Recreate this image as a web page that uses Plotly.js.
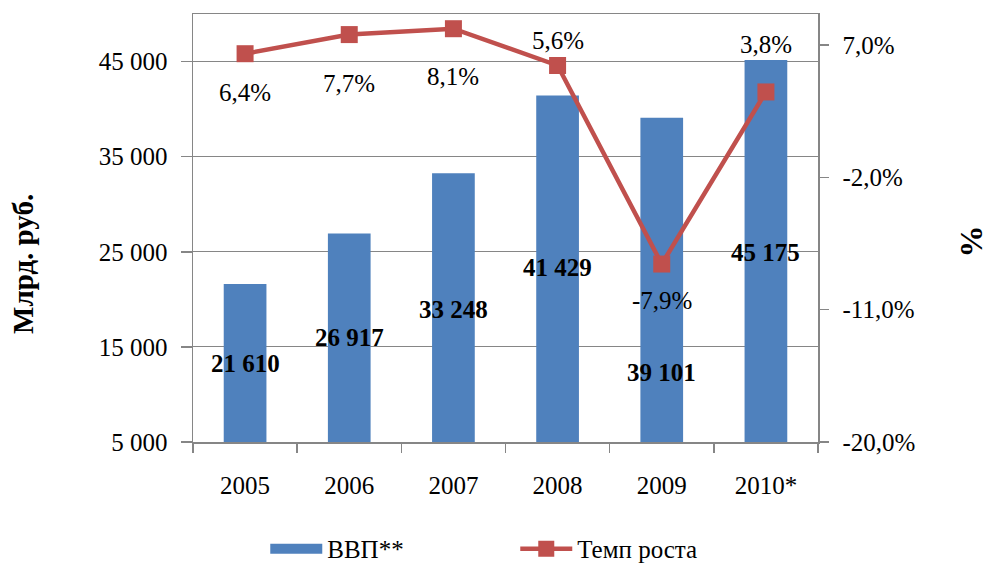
<!DOCTYPE html>
<html><head><meta charset="utf-8">
<script src="https://cdn.plot.ly/plotly-3.0.1.min.js"></script>
<style>html,body{margin:0;padding:0;background:#fff}#c{width:989px;height:563px}
#prime{position:absolute;left:0;top:0;font-family:'Liberation Serif';font-size:10px;color:transparent;pointer-events:none}</style>
</head><body>
<div id="prime">Тa 0 <b>Тa 0</b></div>
<div id="c"></div>
<script>
var years = ["2005","2006","2007","2008","2009","2010*"];
var gdp = [21610, 26917, 33248, 41429, 39101, 45175];
var gdpLabels = ["21 610","26 917","33 248","41 429","39 101","45 175"];
var growth = [6.4, 7.7, 8.1, 5.6, -7.9, 3.8];
var growthLabels = ["6,4%","7,7%","8,1%","5,6%","-7,9%","3,8%"];
var leftTicks = [5000, 15000, 25000, 35000, 45000];
var leftTickText = ["5 000","15 000","25 000","35 000","45 000"];
var rightTicks = [-20, -11, -2, 7];
var rightTickText = ["-20,0%","-11,0%","-2,0%","7,0%"];
var leftTitle = "Млрд. руб.";
var rightTitle = "%";
// label anchor positions (data units) for text placement
var gdpLabelPos = [13210, 15950, 18900, 23320, 12260, 24900];
var growthLabelPos = [3.75, 4.35, 4.85, 7.3, -10.35, 7.0];

var idx = years.map(function(_, i){ return i; });
var bounds = [-0.5].concat(idx.map(function(i){ return i + 0.5; }));

var font = "Liberation Serif, Times New Roman, serif";
var grey = "#868686";
var blue = "#4F81BD", red = "#C0504D";

var traces = [
  {type:"bar", x:idx, y:gdp, name:"ВВП**", marker:{color:blue}, yaxis:"y", width:0.41, hoverinfo:"none", showlegend:false},
  // legend entry for the bars (wide rectangle swatch, as in the reference)
  {type:"scatter", mode:"lines", x:[null], y:[null], name:"ВВП**", line:{color:blue, width:13}, hoverinfo:"none"},
  {type:"scatter", mode:"lines+markers", x:idx, y:growth, name:"Темп роста", yaxis:"y2",
   line:{color:red, width:4.5}, marker:{symbol:"square", size:17, color:red}, hoverinfo:"none"}
];

var ann = [];
for (var i=0;i<years.length;i++){
  ann.push({x:idx[i], y:gdpLabelPos[i], xref:"x", yref:"y", text:"<b>"+gdpLabels[i]+"</b>",
    showarrow:false, font:{family:font, size:25, color:"#000"}});
  ann.push({x:idx[i], y:growthLabelPos[i], xref:"x", yref:"y2", text:growthLabels[i],
    showarrow:false, font:{family:font, size:25, color:"#000"}});
}
// axis titles (placed as in the reference, off-centre)
ann.push({xref:"paper", yref:"paper", x:-0.272, y:0.416, xanchor:"center", yanchor:"middle",
  text:"<b>"+leftTitle+"</b>", textangle:-90, showarrow:false, font:{family:font, size:29, color:"#000"}});
ann.push({xref:"paper", yref:"paper", x:1.245, y:0.469, xanchor:"center", yanchor:"middle",
  text:"<b>"+rightTitle+"</b>", textangle:-90, showarrow:false, font:{family:font, size:32, color:"#000"}});

var layout = {
  width:989, height:563,
  margin:{l:193, r:171, t:14, b:121},
  paper_bgcolor:"#fff", plot_bgcolor:"#fff",
  font:{family:font, size:25, color:"#000"},
  showlegend:true,
  legend:{orientation:"h", xref:"container", yref:"container", x:0.521, xanchor:"center", y:0.025, yanchor:"middle",
    font:{family:font, size:25, color:"#000"}, traceorder:"normal", entrywidth:183, itemwidth:52},
  xaxis:{type:"linear", range:[-0.5, 5.5], tickvals:idx, ticktext:years, ticks:"",
    showline:true, linecolor:grey, linewidth:1.5, mirror:true, ticklabelstandoff:20,
    minor:{tickvals:bounds, ticks:"outside", ticklen:9, tickcolor:grey, tickwidth:1.5, showgrid:false},
    tickfont:{family:font, size:25}, showgrid:false, zeroline:false, fixedrange:true},
  yaxis:{range:[5000,50000], tickvals:leftTicks, ticktext:leftTickText,
    showline:true, linecolor:grey, linewidth:1.5, ticks:"outside", ticklen:11, tickcolor:grey, tickwidth:1.5,
    ticklabelstandoff:8,
    showgrid:true, gridcolor:grey, gridwidth:1, zeroline:false, tickfont:{family:font, size:25}},
  yaxis2:{overlaying:"y", side:"right", range:[-20,9.1], tickvals:rightTicks, ticktext:rightTickText,
    showline:true, linecolor:grey, linewidth:1.5, ticks:"outside", ticklen:9, tickcolor:grey, tickwidth:1.5,
    ticklabelstandoff:9,
    showgrid:false, zeroline:false, tickfont:{family:font, size:25}},
  annotations:ann
};
Plotly.newPlot("c", traces, layout, {displayModeBar:false, staticPlot:true});
</script></body></html>
